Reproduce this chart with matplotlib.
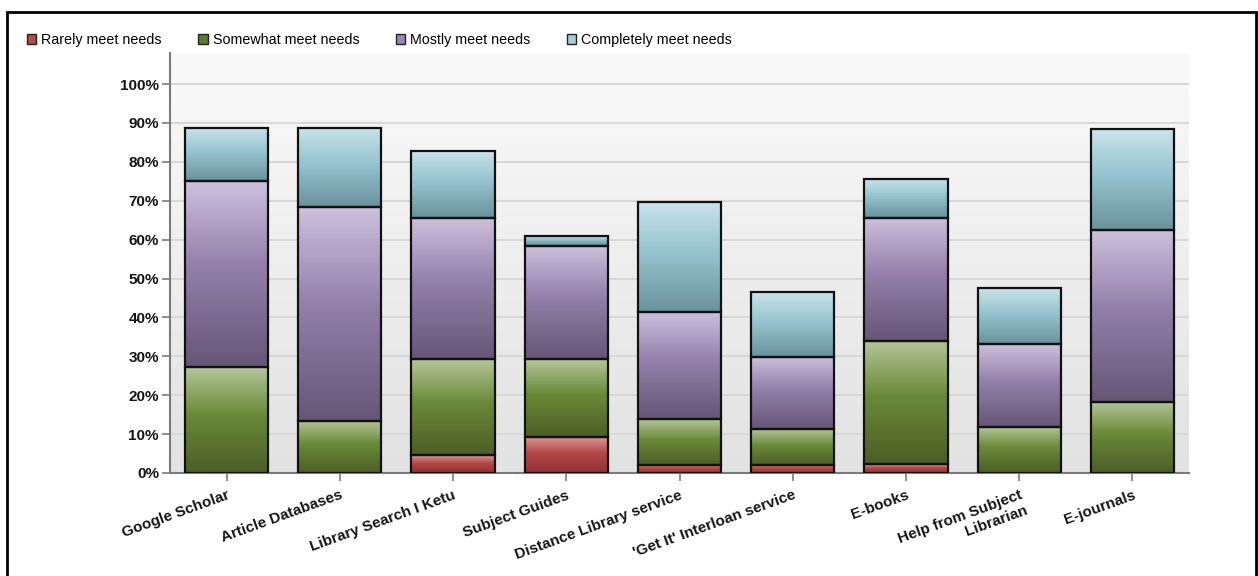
import numpy as np
import matplotlib
matplotlib.use("Agg")
import matplotlib.pyplot as plt
from matplotlib.colors import LinearSegmentedColormap
from matplotlib.patches import Patch, Rectangle

plt.rcParams['font.family'] = ['Liberation Sans', 'DejaVu Sans']

# survey results, percent of respondents per resource
categories = ["Google Scholar", "Article Databases", "Library Search I Ketu",
              "Subject Guides", "Distance Library service",
              "'Get It' Interloan service", "E-books",
              "Help from Subject\nLibrarian", "E-journals"]
rarely = [0, 0, 4.6, 9.3, 2.1, 2.1, 2.2, 0, 0]
somewhat = [27.2, 13.4, 24.6, 19.9, 11.7, 9.2, 31.8, 11.9, 18.3]
mostly = [47.8, 54.9, 36.5, 29.3, 27.7, 18.6, 31.7, 21.3, 44.3]
completely = [13.7, 20.4, 17.0, 2.4, 28.3, 16.6, 9.8, 14.4, 25.8]
series_names = ["Rarely meet needs", "Somewhat meet needs",
                "Mostly meet needs", "Completely meet needs"]
yticks = list(range(0, 101, 10))

# (dark bottom, mid, light top) and legend swatch for each series
shades = [("#8e3232", "#b44848", "#dc9c9c", "#b84a4a"),
          ("#4c5e26", "#6b8a38", "#b5c69a", "#5e7a2e"),
          ("#665676", "#9480ab", "#cdc1dd", "#9a84b4"),
          ("#6a929c", "#96c4d0", "#cae3e9", "#a4cfd9")]

W, H = 1258, 576
fig = plt.figure(figsize=(W / 100, H / 100), dpi=100)
ax = fig.add_axes([170 / W, (H - 473) / H, (1189 - 170) / W, (473 - 53) / H])

# soft grey background
bg = np.linspace(0, 1, 256).reshape(-1, 1)
bg_cmap = LinearSegmentedColormap.from_list("bg", ["#e2e2e2", "#fafafa"])
ax.imshow(bg, extent=[0, 1, 0, 1], transform=ax.transAxes, cmap=bg_cmap,
          aspect='auto', origin='lower', zorder=0)

x = np.arange(len(categories))
bottom = np.zeros(len(categories))
grad = np.linspace(0, 1, 256).reshape(-1, 1)
for vals, (dark, mid, light, _) in zip([rarely, somewhat, mostly, completely], shades):
    cmap = LinearSegmentedColormap.from_list("seg", [(0, dark), (0.55, mid), (1, light)])
    bars = ax.bar(x, vals, bottom=bottom, width=0.735, color='none',
                  edgecolor='#111111', linewidth=1.6, zorder=3)
    for p in bars:
        if p.get_height() <= 0:
            p.set_visible(False)
            continue
        x0, y0 = p.get_xy()
        im = ax.imshow(grad, extent=[x0, x0 + p.get_width(), y0, y0 + p.get_height()],
                       cmap=cmap, aspect='auto', origin='lower', zorder=2)
        im.set_clip_path(p)
    bottom += np.array(vals)

ax.set_xlim(-0.5, len(categories) - 0.5)
ax.set_ylim(0, 108)
ax.set_yticks(yticks)
ax.set_yticklabels([f"{v}%" for v in yticks], fontsize=11, fontweight='bold',
                   color='#151515')
ax.set_xticks(x)
ax.set_xticklabels(categories, rotation=20, ha='right', va='top',
                   rotation_mode='anchor', fontsize=11, fontweight='bold',
                   color='#151515', multialignment='right')
for yv in yticks[1:]:
    ax.axhline(yv, color='#d8d8d8', linewidth=1.5, zorder=1)

for side in ('top', 'right'):
    ax.spines[side].set_visible(False)
for side in ('left', 'bottom'):
    ax.spines[side].set_color('#7a7a7a')
    ax.spines[side].set_linewidth(1.5)
ax.tick_params(axis='both', colors='#7a7a7a', length=6, width=1.2)
ax.tick_params(axis='x', pad=5, labelcolor='#151515')
ax.tick_params(axis='y', pad=2, labelcolor='#151515')

handles = [Patch(facecolor=s[3], edgecolor='#222222', linewidth=1.0) for s in shades]
fig.legend(handles, series_names, loc='center left',
           bbox_to_anchor=(27 / W, 1 - 40 / H), ncol=4, frameon=False,
           fontsize=10.3, handlelength=0.65, handleheight=0.65,
           handletextpad=0.35, columnspacing=2.55, borderaxespad=0, borderpad=0)

# outer frame
fig.patches.append(Rectangle((7 / W, -0.05), (1256 - 7) / W, 1.05 - 12 / H,
                             transform=fig.transFigure, fill=False,
                             edgecolor='black', linewidth=2))

fig.savefig("out.png", dpi=100)
